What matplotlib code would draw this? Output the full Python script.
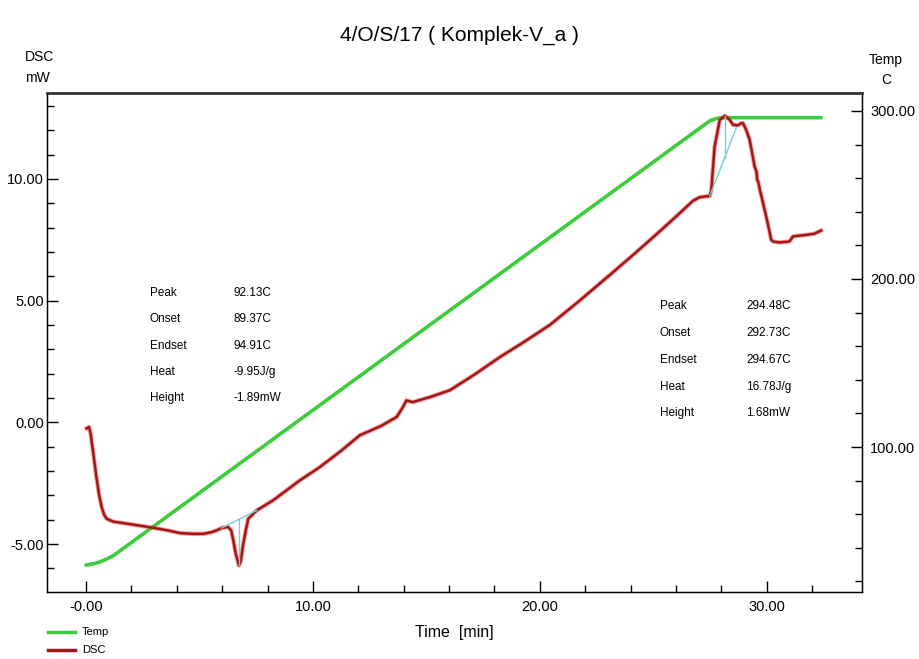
import matplotlib.pyplot as plt
import numpy as np

W, H = 919, 659
narrow = ['Liberation Sans Narrow', 'Liberation Sans', 'DejaVu Sans']

# heat flow trace (time in min, DSC in mW)
dsc_time = [0.03, 0.13, 0.2, 0.32, 0.45, 0.58, 0.69, 0.8, 0.91, 1.2, 1.64, 2.2, 2.75,
            3.5, 4.14, 4.7, 5.17, 5.5, 5.76, 5.98, 6.27, 6.4, 6.49, 6.6, 6.74, 6.82,
            6.93, 7.05, 7.15, 7.52, 8.25, 9.43, 10.3, 11.2, 12.07, 13.0, 13.69, 13.95,
            14.12, 14.4, 15.2, 16.04, 17.1, 18.24, 19.3, 20.44, 21.69, 23.08, 24.2,
            25.29, 26.0, 26.75, 27.05, 27.49, 27.56, 27.7, 27.93, 28.15, 28.35, 28.52,
            28.73, 28.88, 28.96, 29.1, 29.25, 29.47, 29.55, 29.58, 29.62, 29.7, 29.98,
            30.2, 30.28, 30.57, 31.0, 31.16, 31.74, 32.1, 32.4]
dsc_mw = [-0.25, -0.19, -0.45, -1.27, -2.2, -3.0, -3.48, -3.8, -3.96, -4.08, -4.14,
          -4.22, -4.3, -4.42, -4.55, -4.58, -4.58, -4.52, -4.44, -4.34, -4.3, -4.45,
          -4.85, -5.4, -5.88, -5.7, -4.99, -4.4, -3.96, -3.62, -3.2, -2.38, -1.84,
          -1.2, -0.53, -0.15, 0.22, 0.6, 0.9, 0.83, 1.05, 1.32, 1.95, 2.68, 3.3, 4.0,
          4.95, 6.05, 6.95, 7.85, 8.45, 9.1, 9.25, 9.3, 9.55, 11.3, 12.42, 12.59,
          12.45, 12.22, 12.2, 12.29, 12.29, 12.0, 11.6, 10.5, 10.3, 9.96, 9.9, 9.55,
          8.45, 7.5, 7.43, 7.39, 7.43, 7.64, 7.7, 7.75, 7.88]

# sample temperature (C)
temp_time = [0.0, 0.4, 0.8, 1.2, 27.5, 27.8, 28.1, 32.4]
temp_c = [29.8, 30.7, 32.6, 35.3, 294.2, 295.6, 296.0, 296.0]

# baselines drawn for the two peaks: (onset t, onset mW, endset t, endset mW, peak t)
peak1 = (5.98, -4.34, 7.52, -3.62, 6.74)
peak2 = (27.49, 9.3, 28.66, 12.1, 28.15)

peak_labels = ['Peak', 'Onset', 'Endset', 'Heat', 'Height']
peak1_values = ['92.13C', '89.37C', '94.91C', '-9.95J/g', '-1.89mW']
peak2_values = ['294.48C', '292.73C', '294.67C', '16.78J/g', '1.68mW']

fig = plt.figure(figsize=(W / 100, H / 100), dpi=100)
ax = fig.add_axes([47 / W, 1 - 592 / H, (862 - 47) / W, (592 - 93) / H])
ax2 = ax.twinx()

ax.set_xlim(-1.72, 34.2)
ax.set_ylim(-6.97, 13.53)
ax2.set_ylim(13.7, 310.7)

ax2.plot(temp_time, temp_c, color='#3ccc3c', lw=2.6, solid_capstyle='round')
ax.set_zorder(ax2.get_zorder() + 1)
ax.patch.set_visible(False)

ax.plot(dsc_time, dsc_mw, color='#f03030', lw=3.2, alpha=0.45)
ax.plot(dsc_time, dsc_mw, color='#a01818', lw=1.8)

for t0, y0, t1, y1, tp in (peak1, peak2):
    ax.plot([t0, t1], [y0, y1], color='#70d0d8', lw=1.0)
    yb = y0 + (tp - t0) / (t1 - t0) * (y1 - y0)
    yp = np.interp(tp, dsc_time, dsc_mw)
    ax.plot([tp, tp], [yb, yp], color='#70d0d8', lw=1.0)

# ticks
ax.set_xticks([0, 10, 20, 30])
ax.set_xticklabels(['-0.00', '10.00', '20.00', '30.00'])
ax.set_xticks(np.arange(0, 34, 2), minor=True)
ax.set_yticks([-5, 0, 5, 10])
ax.set_yticklabels(['-5.00', '0.00', '5.00', '10.00'])
ax.set_yticks(np.arange(-6, 14, 1), minor=True)
ax2.set_yticks([100, 200, 300])
ax2.set_yticklabels(['100.00', '200.00', '300.00'])
ax2.set_yticks(np.arange(20, 311, 20), minor=True)

for a in (ax, ax2):
    a.tick_params(which='major', direction='in', length=8, width=1, labelsize=10.5, pad=2)
    a.tick_params(which='minor', direction='in', length=5, width=1)
    for lab in a.get_xticklabels() + a.get_yticklabels():
        lab.set_family(narrow)
ax.tick_params(axis='x', pad=6)
ax2.tick_params(axis='y', pad=6)
for sp in ax.spines.values():
    sp.set_linewidth(1.0)
ax.spines['top'].set_linewidth(2.0)
ax.spines['top'].set_color('#333333')

def px(x, y, s, **kw):
    fig.text(x / W, 1 - y / H, s, family=narrow, **kw)

px(459, 35, '4/O/S/17 ( Komplek-V_a )', fontsize=15, ha='center', va='center')
px(39, 57, 'DSC', fontsize=10, ha='center', va='center')
px(37, 78, 'mW', fontsize=10, ha='center', va='center')
px(886, 60, 'Temp', fontsize=10, ha='center', va='center')
px(886, 80, 'C', fontsize=10, ha='center', va='center')
px(454, 632, 'Time  [min]', fontsize=11.5, ha='center', va='center')

rows1 = [293, 319, 346, 372, 398]
rows2 = [306, 333, 360, 387, 413]
for lab, v, y in zip(peak_labels, peak1_values, rows1):
    px(150, y, lab, fontsize=8.5, va='center')
    px(234, y, v, fontsize=8.5, va='center')
for lab, v, y in zip(peak_labels, peak2_values, rows2):
    px(660, y, lab, fontsize=8.5, va='center')
    px(746, y, v, fontsize=8.5, va='center')

# legend
fig.add_artist(plt.Line2D([48 / W, 75 / W], [1 - 632 / H] * 2, color='#3ccc3c', lw=2.5))
fig.add_artist(plt.Line2D([48 / W, 75 / W], [1 - 650 / H] * 2, color='#a01818', lw=2.5))
px(82, 632, 'Temp', fontsize=8, va='center')
px(82, 650, 'DSC', fontsize=8, va='center')

fig.savefig('out.png', dpi=100)
